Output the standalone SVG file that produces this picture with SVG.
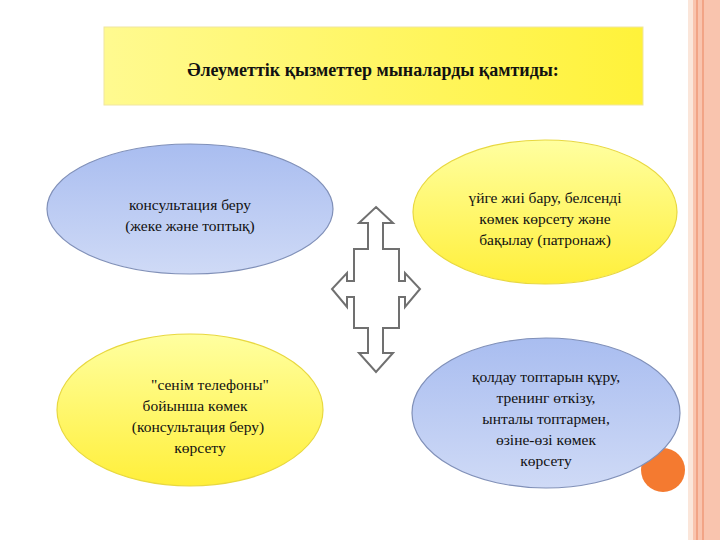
<svg xmlns="http://www.w3.org/2000/svg" width="720" height="540" viewBox="0 0 720 540">
<defs>
<linearGradient id="gy" x1="0" y1="0" x2="0" y2="1"><stop offset="0" stop-color="#ffffa0"/><stop offset="1" stop-color="#ffef3a"/></linearGradient>
<linearGradient id="gb" x1="0" y1="0" x2="0" y2="1"><stop offset="0" stop-color="#a9bdf0"/><stop offset="1" stop-color="#cfdaf6"/></linearGradient>
<linearGradient id="gt" x1="0" y1="0" x2="1" y2="0"><stop offset="0" stop-color="#fffa90"/><stop offset="1" stop-color="#fff23a"/></linearGradient>
<style>
.y{fill:url(#gy);stroke:#e8d840;stroke-width:1.2}
.b{fill:url(#gb);stroke:#8090b8;stroke-width:1.2}
.t{font-family:'Liberation Serif','DejaVu Serif',serif;font-size:15.5px;fill:#111;text-anchor:middle}
</style>
</defs>
<rect width="720" height="540" fill="#fff"/>
<rect x="690" y="0" width="30" height="540" fill="#f9c4ae"/>
<rect x="688" y="0" width="5" height="540" fill="#fbe6da"/>
<line x1="697" y1="0" x2="697" y2="540" stroke="#ef9a78" stroke-width="1.5"/>
<line x1="703" y1="0" x2="703" y2="540" stroke="#ef9a78" stroke-width="1.5"/>
<g id="title"><rect x="104" y="27" width="539" height="78" fill="url(#gt)" stroke="#f0e6a0"/>
<text class="t" x="373" y="76" font-weight="bold" style="font-size:18px">Әлеуметтік қызметтер мыналарды қамтиды:</text></g>
<g id="n1"><ellipse cx="190" cy="209" rx="143" ry="65" class="b"/>
<text class="t" x="190" y="210">консультация беру</text><text class="t" x="190" y="231">(жеке және топтық)</text></g>
<g id="n2"><ellipse cx="545" cy="212" rx="132" ry="72" class="y"/>
<text class="t" x="545" y="203">үйге жиі бару, белсенді</text><text class="t" x="545" y="224">көмек көрсету және</text><text class="t" x="545" y="245">бақылау (патронаж)</text></g>
<circle cx="663" cy="470" r="22" fill="#f47a30"/>
<g id="n3"><ellipse cx="190" cy="410" rx="133" ry="76" class="y"/>
<text class="t" x="210" y="390">"сенім телефоны"</text><text class="t" x="195" y="411">бойынша көмек</text><text class="t" x="198" y="432">(консультация беру)</text><text class="t" x="200" y="453">көрсету</text></g>
<g id="n4"><ellipse cx="546" cy="413" rx="134" ry="75" class="b"/>
<text class="t" x="546" y="382">қолдау топтарын құру,</text><text class="t" x="546" y="403">тренинг өткізу,</text><text class="t" x="546" y="424">ынталы топтармен,</text><text class="t" x="546" y="445">өзіне-өзі көмек</text><text class="t" x="546" y="466">көрсету</text></g>
<g id="connectors"><path d="M376,207 L393,223 L383,223 L383,249 L399,249 L399,281 L405,281 L405,273 L420,289 L405,307 L405,297 L399,297 L399,328 L383,328 L383,353 L393,353 L376,372 L359,353 L368,353 L368,328 L354,328 L354,297 L347,297 L347,307 L332,289 L347,273 L347,281 L354,281 L354,249 L368,249 L368,223 L359,223 Z" fill="#fff" stroke="#707070" stroke-width="2"/></g>
</svg>
